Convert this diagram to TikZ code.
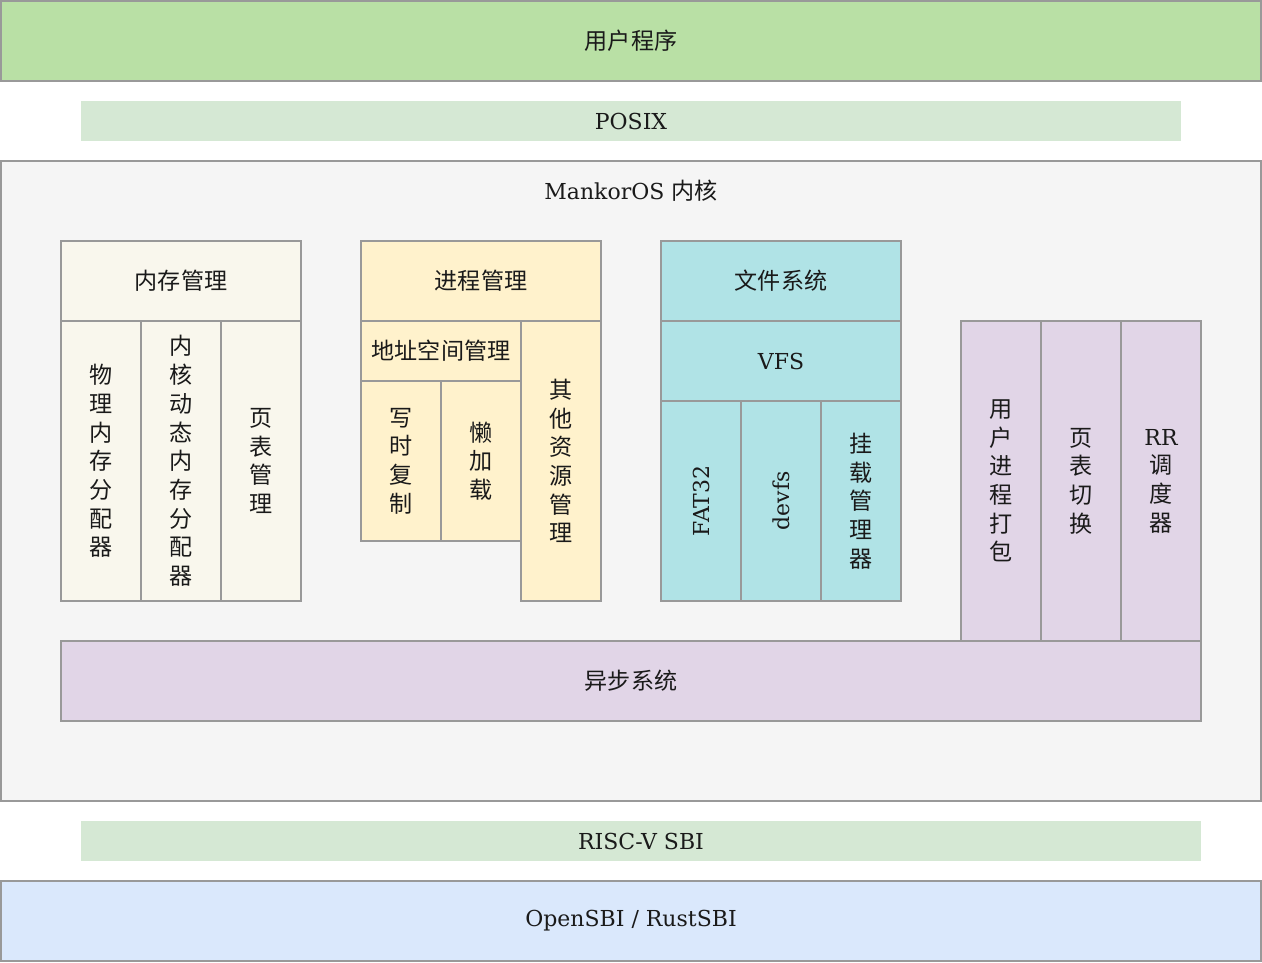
\documentclass[tikz,border=0pt]{standalone}
\usepackage{fontspec}
\setmainfont{DejaVu Serif}
\newfontfamily\cjk{Noto Sans CJK SC}[Scale=1.05]
\definecolor{bgray}{HTML}{999999}
\definecolor{userg}{HTML}{B9E0A5}
\definecolor{ifaceg}{HTML}{D5E8D4}
\definecolor{kernelg}{HTML}{F5F5F5}
\definecolor{memc}{HTML}{F9F7ED}
\definecolor{procc}{HTML}{FFF2CC}
\definecolor{fsc}{HTML}{B0E3E6}
\definecolor{purp}{HTML}{E1D5E7}
\definecolor{sbic}{HTML}{DAE8FC}
\definecolor{txt}{HTML}{1A1A1A}
\tikzset{
  blk/.style={draw=bgray, line width=1.8pt, inner sep=0pt, align=center, text=txt,
    font=\fontsize{22}{28.7}\selectfont},
  cblk/.style={blk, font=\fontsize{22}{28.7}\selectfont\cjk},
  band/.style={inner sep=0pt, align=center, text=txt, font=\fontsize{22}{28.7}\selectfont},
}
\begin{document}
\begin{tikzpicture}[x=1pt,y=-1pt]
\useasboundingbox (0,0) rectangle (1262,962);
% top
\node[cblk, fill=userg, minimum width=1260pt, minimum height=80pt] (user) at (631,41) {用户程序};
\node[band, fill=ifaceg, minimum width=1100pt, minimum height=40pt] (posix) at (631,121) {POSIX};
% kernel
\node[blk, fill=kernelg, minimum width=1260pt, minimum height=640pt] (kernel) at (631,481) {};
\node[band] (ktitle) at (631,191) {MankorOS {\cjk 内核}};
% memory
\node[cblk, fill=memc, minimum width=240pt, minimum height=80pt] (mem) at (181,281) {内存管理};
\node[cblk, fill=memc, minimum width=80pt, minimum height=280pt] (phys) at (101,461) {物\\理\\内\\存\\分\\配\\器};
\node[cblk, fill=memc, minimum width=80pt, minimum height=280pt] (kheap) at (181,461) {内\\核\\动\\态\\内\\存\\分\\配\\器};
\node[cblk, fill=memc, minimum width=80pt, minimum height=280pt] (ptm) at (261,461) {页\\表\\管\\理};
% process
\node[cblk, fill=procc, minimum width=240pt, minimum height=80pt] (proc) at (481,281) {进程管理};
\node[cblk, fill=procc, minimum width=160pt, minimum height=60pt] (aspace) at (441,351) {地址空间管理};
\node[cblk, fill=procc, minimum width=80pt, minimum height=160pt] (cow) at (401,461) {写\\时\\复\\制};
\node[cblk, fill=procc, minimum width=80pt, minimum height=160pt] (lazy) at (481,461) {懒\\加\\载};
\node[cblk, fill=procc, minimum width=80pt, minimum height=280pt] (other) at (561,461) {其\\他\\资\\源\\管\\理};
% file system
\node[cblk, fill=fsc, minimum width=240pt, minimum height=80pt] (fs) at (781,281) {文件系统};
\node[blk, fill=fsc, minimum width=240pt, minimum height=80pt] (vfs) at (781,361) {VFS};
\node[blk, fill=fsc, minimum width=200pt, minimum height=80pt, rotate=90] (fat) at (701,501) {FAT32};
\node[blk, fill=fsc, minimum width=200pt, minimum height=80pt, rotate=90] (devfs) at (781,501) {devfs};
\node[cblk, fill=fsc, minimum width=80pt, minimum height=200pt] (mount) at (861,501) {挂\\载\\管\\理\\器};
% right column
\node[cblk, fill=purp, minimum width=80pt, minimum height=320pt] (pack) at (1001,481) {用\\户\\进\\程\\打\\包};
\node[cblk, fill=purp, minimum width=80pt, minimum height=320pt] (ptsw) at (1081,481) {页\\表\\切\\换};
\node[cblk, fill=purp, minimum width=80pt, minimum height=320pt] (rr) at (1161,481) {{\rmfamily RR}\\调\\度\\器};
% async
\node[cblk, fill=purp, minimum width=1140pt, minimum height=80pt] (async) at (631,681) {异步系统};
% bottom
\node[band, fill=ifaceg, minimum width=1120pt, minimum height=40pt] (sbi) at (641,841) {RISC-V SBI};
\node[blk, fill=sbic, minimum width=1260pt, minimum height=80pt] (opensbi) at (631,921) {OpenSBI / RustSBI};
\end{tikzpicture}
\end{document}
